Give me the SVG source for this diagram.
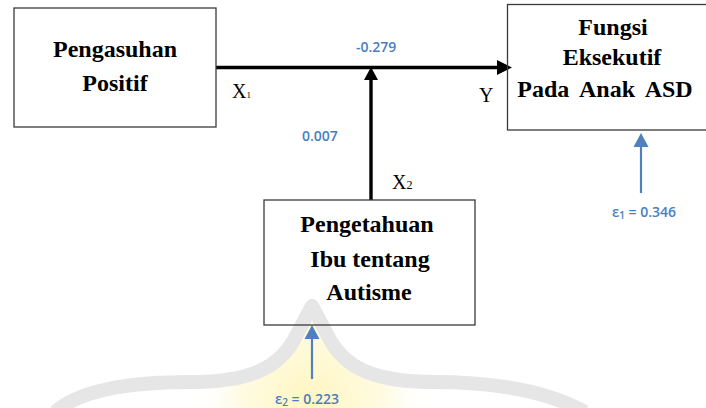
<svg xmlns="http://www.w3.org/2000/svg" width="706" height="408" viewBox="0 0 706 408">
  <defs>
    <radialGradient id="glow" cx="312" cy="400" r="120" gradientUnits="userSpaceOnUse">
      <stop offset="0" stop-color="#fff6c2"/>
      <stop offset="0.6" stop-color="#fffbe2"/>
      <stop offset="1" stop-color="#ffffff" stop-opacity="0"/>
    </radialGradient>
    <style>
      .box { fill: none; stroke: #3a3a3a; stroke-width: 1.3; }
      .title { font-family: "Liberation Serif", "Times New Roman", serif; font-weight: bold; font-size: 24px; fill: #000; text-anchor: middle; }
      .var { font-family: "Liberation Serif", "Times New Roman", serif; font-size: 20px; fill: #000; }
      .coef { font-family: "Open Sans", "Liberation Sans", sans-serif; font-weight: 600; font-size: 14px; fill: #4a7ebf; }
      .err { font-family: "Open Sans", "Liberation Sans", sans-serif; font-weight: 600; font-size: 14px; fill: #4a7ebf; }
      .path { stroke: #000; stroke-width: 3.4; fill: none; }
      .resid { stroke: #4f81bd; stroke-width: 2.2; fill: none; }
    </style>
  </defs>

  <rect width="706" height="408" fill="#ffffff"/>

  <!-- faint background emblem near the bottom edge -->
  <g id="emblem">
    <path d="M 60 420 C 90 392 140 388 200 388 C 255 388 285 372 300 340 L 312 316 L 324 340 C 339 372 369 388 424 388 C 484 388 540 392 580 420 Z" fill="url(#glow)"/>
    <path d="M 55 412 C 80 390 130 382 190 382 C 250 382 280 368 296 336 L 312 306 L 328 336 C 344 368 374 382 434 382 C 494 382 545 390 585 412" fill="none" stroke="#dedede" stroke-width="14" stroke-linejoin="round" opacity="0.75"/>
  </g>

  <!-- path connectors -->
  <g id="connectors">
    <line class="path" x1="216" y1="67.5" x2="499" y2="67.5"/>
    <polygon points="497,60 512,67.5 497,75" fill="#000"/>
    <line class="path" x1="371" y1="200" x2="371" y2="78" stroke-width="3"/>
    <polygon points="364,80 371,67 378,80" fill="#000"/>
    <line class="resid" x1="641" y1="193" x2="641" y2="145"/>
    <polygon points="633.5,147 641,133 648.5,147" fill="#4f81bd"/>
    <line class="resid" x1="312" y1="379" x2="312" y2="337"/>
    <polygon points="304.5,339 312,325 319.5,339" fill="#4f81bd"/>
  </g>

  <g id="pengasuhan">
    <rect class="box" x="14" y="8" width="202" height="119"/>
    <text class="title" x="115" y="57">Pengasuhan</text>
    <text class="title" x="115" y="91">Positif</text>
  </g>

  <g id="fungsi">
    <rect class="box" x="507.5" y="4.5" width="200" height="125.5"/>
    <text class="title" x="613" y="35">Fungsi</text>
    <text class="title" x="612" y="65">Eksekutif</text>
    <text class="title" x="605" y="97" font-size="25" word-spacing="5">Pada Anak ASD</text>
  </g>

  <g id="pengetahuan">
    <rect class="box" x="264" y="200" width="211" height="125"/>
    <text class="title" x="367" y="232">Pengetahuan</text>
    <text class="title" x="370" y="267">Ibu tentang</text>
    <text class="title" x="369" y="300">Autisme</text>
  </g>

  <!-- variable labels -->
  <g id="labels">
    <text class="var" x="232" y="98">X<tspan font-size="9">1</tspan></text>
    <text class="var" x="479" y="102">Y</text>
    <text class="var" x="392" y="189">X<tspan font-size="12">2</tspan></text>
    <text class="coef" x="356" y="52">-0.279</text>
    <text class="coef" x="302" y="141">0.007</text>
    <text class="err" x="612" y="217">ε<tspan font-size="10" dy="2">1</tspan><tspan dy="-2"> = 0.346</tspan></text>
    <text class="err" x="275" y="404" fill="#4b82b0">ε<tspan font-size="10" dy="2">2</tspan><tspan dy="-2"> = 0.223</tspan></text>
  </g>
</svg>
